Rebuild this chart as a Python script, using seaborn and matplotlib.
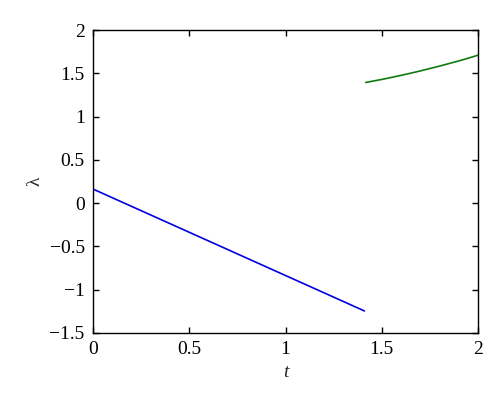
import matplotlib
matplotlib.use("Agg")
import matplotlib.pyplot as plt
import seaborn as sns
import pandas as pd

# Data
t_blue = [0.0, 1.41]
lam_blue = [0.163, -1.246]

t_green = [1.417, 1.45, 1.50, 1.55, 1.60, 1.65, 1.70, 1.75, 1.80, 1.85, 1.90, 1.95, 2.0]
lam_green = [1.395, 1.409, 1.430, 1.453, 1.477, 1.502, 1.528, 1.556, 1.584, 1.614, 1.644, 1.676, 1.71]

x_ticks = [0, 0.5, 1, 1.5, 2]
x_ticklabels = ["0", "0.5", "1", "1.5", "2"]
y_ticks = [-1.5, -1, -0.5, 0, 0.5, 1, 1.5, 2]
y_ticklabels = ["\u22121.5", "\u22121", "\u22120.5", "0", "0.5", "1", "1.5", "2"]

sns.set_style("ticks")
plt.rcParams["font.family"] = ["Liberation Serif", "DejaVu Serif"]

fig = plt.figure(figsize=(5.0, 4.07), dpi=100)
ax = fig.add_axes([0.186, 0.182, 0.770, 0.744])

df_b = pd.DataFrame({"t": t_blue, "lam": lam_blue})
df_g = pd.DataFrame({"t": t_green, "lam": lam_green})
sns.lineplot(data=df_b, x="t", y="lam", ax=ax, color="#0000e0", linewidth=1.2, estimator=None)
sns.lineplot(data=df_g, x="t", y="lam", ax=ax, color="#107a10", linewidth=1.2, estimator=None)

ax.set_xlim(0, 2)
ax.set_ylim(-1.5, 2)
ax.set_xticks(x_ticks)
ax.set_xticklabels(x_ticklabels)
ax.set_yticks(y_ticks)
ax.set_yticklabels(y_ticklabels)
ax.tick_params(direction="in", top=True, right=True, length=4, width=1.0,
               labelsize=14, colors="black", pad=6)
for s in ax.spines.values():
    s.set_visible(True)
    s.set_color("black")
    s.set_linewidth(1.0)

ax.set_xlabel("t", fontsize=14, style="italic", labelpad=4)
ax.set_ylabel("\u03bb", fontsize=14, labelpad=4)

fig.savefig("out.png", dpi=100)
